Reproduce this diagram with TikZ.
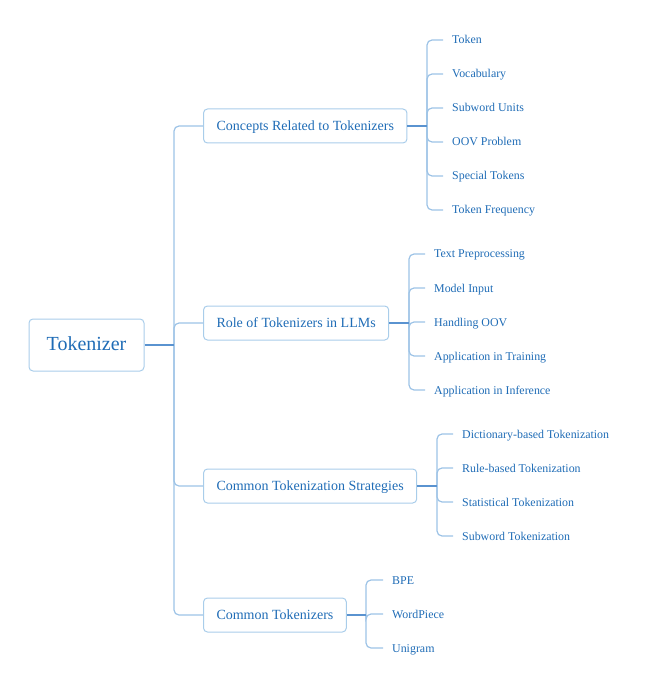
\documentclass[tikz,border=0pt]{standalone}
\usepackage{fontspec}
\setmainfont{Liberation Serif}
\definecolor{txtblue}{HTML}{1F6CB6}
\definecolor{boxblue}{HTML}{A9CDEA}
\definecolor{linelight}{HTML}{9DC3E6}
\definecolor{linedark}{HTML}{5A93D0}

\begin{document}
\begin{tikzpicture}[x=1pt, y=-1pt,
rootnode/.style={rectangle, rounded corners=4pt, draw=boxblue, line width=1pt, text=txtblue, minimum width=115pt, minimum height=52pt, text height=1.1em, text depth=0pt, font=\fontsize{20}{24}\selectfont},
branchnode/.style={rectangle, rounded corners=4pt, draw=boxblue, line width=1pt, text=txtblue, anchor=west, minimum height=34pt, inner xsep=13pt, text height=0.85em, text depth=0pt, font=\fontsize{14}{16}\selectfont},
leafnode/.style={anchor=west, text=txtblue, inner xsep=9pt, inner ysep=2pt, text height=0.8em, text depth=0pt, font=\fontsize{11.9}{14}\selectfont},
thinline/.style={draw=linelight, line width=1.2pt, rounded corners=5pt},
thickline/.style={draw=linedark, line width=2pt},
]
\useasboundingbox (0,0) rectangle (649,692);
%Nodes
\node[rootnode]   at (86.5,345) (root) {Tokenizer};
\node[branchnode] at (203,126) (concepts) {Concepts Related to Tokenizers};
\node[branchnode] at (203,323) (role) {Role of Tokenizers in LLMs};
\node[branchnode] at (203,486) (strategies) {Common Tokenization Strategies};
\node[branchnode] at (203,615) (tokenizers) {Common Tokenizers};
\coordinate (trunk) at (174,345);
\coordinate (conceptsJ) at (427,126);
\coordinate (roleJ) at (409,323);
\coordinate (strategiesJ) at (437,486);
\coordinate (tokenizersJ) at (366,615);
\node[leafnode] at (443,40) (token) {Token};
\node[leafnode] at (443,74) (vocab) {Vocabulary};
\node[leafnode] at (443,108) (subword) {Subword Units};
\node[leafnode] at (443,142) (oov) {OOV Problem};
\node[leafnode] at (443,176) (special) {Special Tokens};
\node[leafnode] at (443,210) (freq) {Token Frequency};
\node[leafnode] at (425,254) (prep) {Text Preprocessing};
\node[leafnode] at (425,288) (input) {Model Input};
\node[leafnode] at (425,322) (handling) {Handling OOV};
\node[leafnode] at (425,356) (training) {Application in Training};
\node[leafnode] at (425,390) (inference) {Application in Inference};
\node[leafnode] at (453,434) (dict) {Dictionary-based Tokenization};
\node[leafnode] at (453,468) (rule) {Rule-based Tokenization};
\node[leafnode] at (453,502) (stat) {Statistical Tokenization};
\node[leafnode] at (453,536) (subtok) {Subword Tokenization};
\node[leafnode] at (383,580) (bpe) {BPE};
\node[leafnode] at (383,614) (wordpiece) {WordPiece};
\node[leafnode] at (383,648) (unigram) {Unigram};
%Lines
\path[thinline] (trunk) |- (concepts.west);
\path[thinline] (trunk) |- (role.west);
\path[thinline] (trunk) |- (strategies.west);
\path[thinline] (trunk) |- (tokenizers.west);
\path[thickline] (root.east) -- (trunk);
\foreach \leaf in {token,vocab,subword,oov,special,freq}
  \path[thinline] (conceptsJ) |- (\leaf.west);
\foreach \leaf in {prep,input,handling,training,inference}
  \path[thinline] (roleJ) |- (\leaf.west);
\foreach \leaf in {dict,rule,stat,subtok}
  \path[thinline] (strategiesJ) |- (\leaf.west);
\foreach \leaf in {bpe,wordpiece,unigram}
  \path[thinline] (tokenizersJ) |- (\leaf.west);
\path[thickline] (concepts.east) -- (conceptsJ);
\path[thickline] (role.east) -- (roleJ);
\path[thickline] (strategies.east) -- (strategiesJ);
\path[thickline] (tokenizers.east) -- (tokenizersJ);
\end{tikzpicture}
\end{document}
